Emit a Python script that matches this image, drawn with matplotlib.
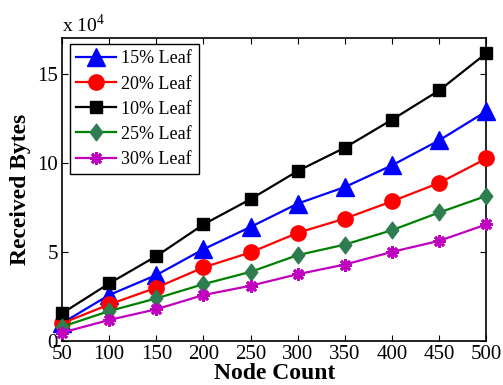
import matplotlib
matplotlib.use("Agg")
import matplotlib.pyplot as plt
from matplotlib.path import Path

nodes = [50, 100, 150, 200, 250, 300, 350, 400, 450, 500]
leaf15 = [1.0, 2.58, 3.70, 5.15, 6.40, 7.71, 8.64, 9.86, 11.26, 12.89]
leaf20 = [0.99, 2.05, 2.99, 4.13, 4.97, 6.07, 6.87, 7.84, 8.87, 10.24]
leaf10 = [1.55, 3.23, 4.76, 6.54, 7.96, 9.54, 10.85, 12.42, 14.06, 16.15]
leaf25 = [0.80, 1.68, 2.39, 3.19, 3.88, 4.82, 5.41, 6.22, 7.21, 8.14]
leaf30 = [0.47, 1.18, 1.78, 2.58, 3.10, 3.75, 4.29, 5.00, 5.62, 6.54]
labels = ["15% Leaf", "20% Leaf", "10% Leaf", "25% Leaf", "30% Leaf"]
xticks = [50, 100, 150, 200, 250, 300, 350, 400, 450, 500]
yticks = [0, 5, 10, 15]

plt.rcParams['font.family'] = ['Liberation Serif', 'DejaVu Serif']
plt.rcParams['mathtext.fontset'] = 'custom'
plt.rcParams['mathtext.rm'] = 'Liberation Serif'

fig = plt.figure(figsize=(5.03, 3.85), dpi=100)
ax = fig.add_axes([0.1233, 0.1143, 0.8437, 0.787])

diamond = Path([(0, 1), (0.75, 0), (0, -1), (-0.75, 0), (0, 1)],
               [Path.MOVETO, Path.LINETO, Path.LINETO, Path.LINETO, Path.CLOSEPOLY])

ax.plot(nodes, leaf15, color='#0000ff', lw=1.6, marker='^', ms=13,
        mfc='#0000ff', mec='#0000ff', label=labels[0], clip_on=False, zorder=3)
ax.plot(nodes, leaf20, color='#ff0000', lw=1.6, marker='o', ms=11,
        mfc='#ff0000', mec='#ff0000', label=labels[1], clip_on=False, zorder=3)
ax.plot(nodes, leaf10, color='#000000', lw=1.6, marker='s', ms=9,
        mfc='#000000', mec='#000000', label=labels[2], clip_on=False, zorder=3)
ax.plot(nodes, leaf25, color='#008000', lw=1.6, marker=diamond, ms=12,
        mfc='#2e7d50', mec='#2e7d50', label=labels[3], clip_on=False, zorder=3)
ax.plot(nodes, leaf30, color='#bf00bf', lw=1.6, marker=(8, 2, 0), ms=9, mew=2.0,
        mfc='#bf00bf', mec='#bf00bf', label=labels[4], clip_on=False, zorder=3)

ax.set_xlim(50, 500)
ax.set_ylim(0, 17)
ax.set_xticks(xticks)
ax.set_yticks(yticks)
ax.tick_params(direction='in', top=True, right=True, length=4, width=0.8,
               labelsize=15, pad=3)
for s in ax.spines.values():
    s.set_linewidth(1.2)

ax.set_xlabel("Node Count", fontsize=17, fontweight='bold', labelpad=-1)
ax.set_ylabel("Received Bytes", fontsize=17, fontweight='bold', labelpad=4)
ax.text(0.0, 1.005, r"x 10$^{4}$", transform=ax.transAxes, fontsize=14,
        ha='left', va='bottom')

leg = ax.legend(loc='upper left', bbox_to_anchor=(0.0188, 0.98), borderaxespad=0,
                fontsize=13, fancybox=False, framealpha=1, edgecolor='black',
                handlelength=2.2, handletextpad=0.3, labelspacing=0.45,
                borderpad=0.35)
leg.get_frame().set_linewidth(1.0)

fig.savefig("out.png", dpi=100)
